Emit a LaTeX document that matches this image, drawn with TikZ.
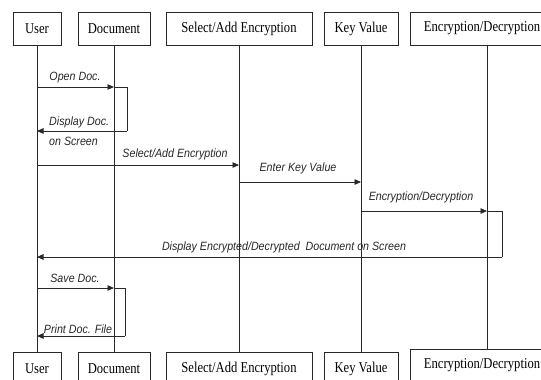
\documentclass[tikz,border=0pt]{standalone}
\usepackage{fontspec}
\usetikzlibrary{arrows.meta}
\newfontfamily\boxfont[FakeStretch=0.84]{Liberation Serif}
\newfontfamily\msgfont[FakeStretch=0.89]{Liberation Sans}
\definecolor{ink}{RGB}{40,40,40}
\tikzset{
  actor/.style={draw=ink, line width=0.95bp, minimum height=33bp, inner sep=0pt,
    font=\boxfont\fontsize{15bp}{18bp}\selectfont, text=black},
  lifeline/.style={draw=ink, line width=0.95bp},
  msg/.style={draw=ink, line width=0.95bp, -{Triangle[length=6.5bp,width=5.5bp]}},
  bar/.style={draw=ink, line width=0.95bp},
  lbl/.style={font=\msgfont\itshape\fontsize{12bp}{14bp}\selectfont, inner sep=0pt, text=ink}
}
\begin{document}
\begin{tikzpicture}[x=1bp, y=-1bp]
\useasboundingbox (0,0) rectangle (541,379);
\clip (0,0) rectangle (541,379);

% participants, top row
\node[actor, minimum width=48bp]  (userT) at (37,28.5)  {User};
\node[actor, minimum width=72bp]  (docT)  at (114,28.5) {Document};
\node[actor, minimum width=146bp] (selT)  at (239,28.5) {Select/Add Encryption};
\node[actor, minimum width=74bp]  (keyT)  at (361,28.5) {Key Value};
\node[actor, minimum width=144bp] (encT)  at (482,28.5) {Encryption/Decryption};

% participants, bottom row
\node[actor, minimum width=48bp]  (userB) at (37,368.5)  {User};
\node[actor, minimum width=72bp]  (docB)  at (114,368.5) {Document};
\node[actor, minimum width=146bp] (selB)  at (239,368.5) {Select/Add Encryption};
\node[actor, minimum width=74bp]  (keyB)  at (361,368.5) {Key Value};
\node[actor, minimum width=144bp] (encB)  at (482,365.5) {Encryption/Decryption};

% lifelines
\draw[lifeline] (userT) -- (userB);
\draw[lifeline] (docT) -- (docB);
\draw[lifeline] (selT) -- (selB);
\draw[lifeline] (keyT) -- (keyB);
\draw[lifeline] ([xshift=5bp]encT.south) -- ([xshift=5bp]encB.north);

% message points on the lifelines
\coordinate (od1) at (37,87);   \coordinate (od2) at (114,87);
\coordinate (od3) at (127,87);  \coordinate (od4) at (127,131);
\coordinate (od5) at (37,131);
\coordinate (sa1) at (37,165);  \coordinate (sa2) at (239,165);
\coordinate (kv1) at (239,182); \coordinate (kv2) at (361,182);
\coordinate (ed1) at (361,211); \coordinate (ed2) at (487,211);
\coordinate (ed3) at (502,211); \coordinate (ed4) at (502,257);
\coordinate (ed5) at (37,257);
\coordinate (sd1) at (37,288);  \coordinate (sd2) at (114,288);
\coordinate (sd3) at (125,288); \coordinate (sd4) at (125,336);
\coordinate (sd5) at (37,336);

% Open / display document
\draw[msg] (od1) -- (od2);
\draw[bar] (od2) -- (od3) -- (od4);
\draw[msg] (od4) -- (od5);
\node[lbl] (lOpen) at (75,78) {Open Doc.};
\node[lbl, anchor=west] (lDisp1) at (49,122) {Display Doc.};
\node[lbl, anchor=west] (lDisp2) at (49,141) {on Screen};

% Select / key / encryption
\draw[msg] (sa1) -- (sa2);
\node[lbl] (lSel) at (175,154) {Select/Add Encryption};
\draw[msg] (kv1) -- (kv2);
\node[lbl] (lKey) at (298,168) {Enter Key Value};
\draw[msg] (ed1) -- (ed2);
\draw[bar] (ed2) -- (ed3) -- (ed4);
\draw[msg] (ed4) -- (ed5);
\node[lbl] (lEnc) at (421,197) {Encryption/Decryption};
\node[lbl] (lRes) at (284,247) {Display Encrypted/Decrypted\ \ Document on Screen};

% Save / print document
\draw[msg] (sd1) -- (sd2);
\draw[bar] (sd2) -- (sd3) -- (sd4);
\draw[msg] (sd4) -- (sd5);
\node[lbl] (lSave) at (75,278) {Save Doc.};
\node[lbl] (lPrint) at (78,329) {Print Doc. File};
\end{tikzpicture}
\end{document}
